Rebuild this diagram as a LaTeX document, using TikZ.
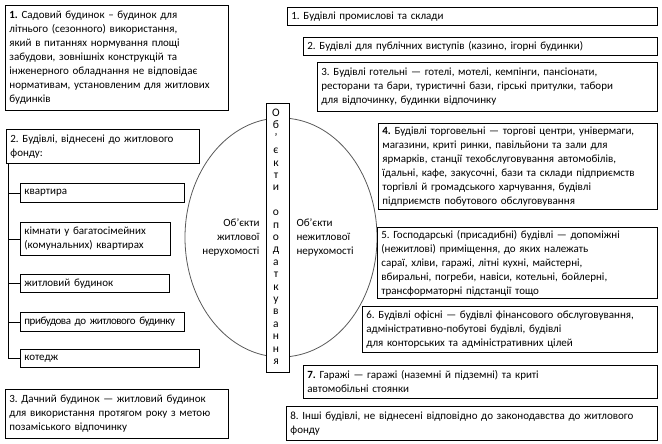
\documentclass[tikz,border=0pt]{standalone}
\usepackage{fontspec}
\setmainfont{Carlito}
\usetikzlibrary{shapes.geometric}
\frenchspacing
\begin{document}
\begin{tikzpicture}[x=1pt,y=-1pt,
  every node/.style={font=\fontsize{11}{14}\selectfont},
  box/.style={draw, line width=0.8pt, anchor=north west, align=left, inner xsep=4pt, inner ysep=1pt},
  link/.style={line width=0.8pt},
  letter/.style={anchor=base, inner sep=0pt, font=\fontsize{11.5}{12}\selectfont},
]
\useasboundingbox (0,0) rectangle (662,444);
% left column
\node[box, text width=215pt, minimum height=105pt] (L1) at (5,5) {\textbf{1.} Садовий будинок – будинок для\\
літнього (сезонного) використання,\\
який в питаннях нормування площі\\
забудови, зовнішніх конструкцій та\\
інженерного обладнання не відповідає\\
нормативам, установленим для житлових\\
будинків};
\node[box, text width=185pt, minimum height=34pt] (L2) at (6,129) {2. Будівлі, віднесені до житлового\\ фонду:};
\node[box, text width=156pt, minimum height=19pt] (Lk) at (20,183) {квартира};
\node[box, text width=142pt, minimum height=33pt] (Lkim) at (20,222) {кімнати у багатосімейних\\ (комунальних) квартирах};
\node[box, text width=141pt, minimum height=18pt] (Lzh) at (20,274) {житловий будинок};
\node[box, text width=156pt, minimum height=19pt] (Lpr) at (20,312) {\addfontfeature{LetterSpace=-4}прибудова до житлового будинку};
\node[box, text width=171pt, minimum height=18pt] (Lkot) at (20,349) {котедж};
\node[box, text width=215pt, minimum height=49pt] (L3) at (5,389) {3. Дачний будинок — житловий будинок\\ для використання протягом року з метою\\ позаміського відпочинку};
\coordinate (trunk) at (8,0);
\draw[link] (L2.south -| trunk) |- (Lkot.west);
\foreach \n in {Lk,Lkim,Lzh,Lpr}{\draw[link] (\n.west) -- (\n.west -| trunk);}
% centre
\node[ellipse, draw=black!65, line width=0.8pt, minimum width=192pt, minimum height=239pt, inner sep=0pt] (ell) at (281,237.5) {};
\node[align=right, anchor=east] (res) at (263,238) {Об’єкти\\ житлової\\ нерухомості};
\node[align=left, anchor=west] (nres) at (293,238) {Об’єкти\\ нежитлової\\ нерухомості};
\node[draw, fill=white, line width=0.8pt, minimum width=23pt, minimum height=269pt, inner sep=0pt] (vert) at (277.5,237.5) {};
\foreach \ch [count=\i from 0] in {О,б,’,є,к,т,и,{},о,п,о,д,а,т,к,у,в,а,н,н,я}{
  \node[letter] (v\i) at (276,{116.5+12.4*\i}) {\ch};
}
% right column
\node[box, text width=362pt, minimum height=18pt] (R1) at (287,7) {1. Будівлі промислові та склади};
\node[box, text width=346pt, minimum height=18pt] (R2) at (303,37) {2. Будівлі для публічних виступів (казино, ігорні будинки)};
\node[box, text width=332pt, minimum height=49pt] (R3) at (317,62) {3. Будівлі готельні — готелі, мотелі, кемпінги, пансіонати,\\ ресторани та бари, туристичні бази, гірські притулки, табори\\ для відпочинку, будинки відпочинку};
\node[box, text width=271pt, minimum height=86pt] (R4) at (378,123) {\textbf{4.} Будівлі торговельні — торгові центри, універмаги,\\ магазини, криті ринки, павільйони та зали для\\ ярмарків, станції техобслуговування автомобілів,\\ їдальні, кафе, закусочні, бази та склади підприємств\\ торгівлі й громадського харчування, будівлі\\ підприємств побутового обслуговування};
\node[box, text width=272pt, minimum height=71pt] (R5) at (377,227) {5. Господарські (присадибні) будівлі — допоміжні\\ (нежитлові) приміщення, до яких належать\\ сараї, хліви, гаражі, літні кухні, майстерні,\\ вбиральні, погреби, навіси, котельні, бойлерні,\\ трансформаторні підстанції тощо};
\node[box, text width=287pt, minimum height=46pt] (R6) at (362,306) {6. Будівлі офісні — будівлі фінансового обслуговування,\\ адміністративно-побутові будівлі, будівлі\\ для конторських та адміністративних цілей};
\node[box, text width=346pt, minimum height=33pt] (R7) at (303,365) {\textbf{7.} Гаражі — гаражі (наземні й підземні) та криті\\ автомобільні стоянки};
\node[box, text width=363pt, minimum height=34pt] (R8) at (286,406) {8. Інші будівлі, не віднесені відповідно до законодавства до житлового\\ фонду};
\end{tikzpicture}
\end{document}
